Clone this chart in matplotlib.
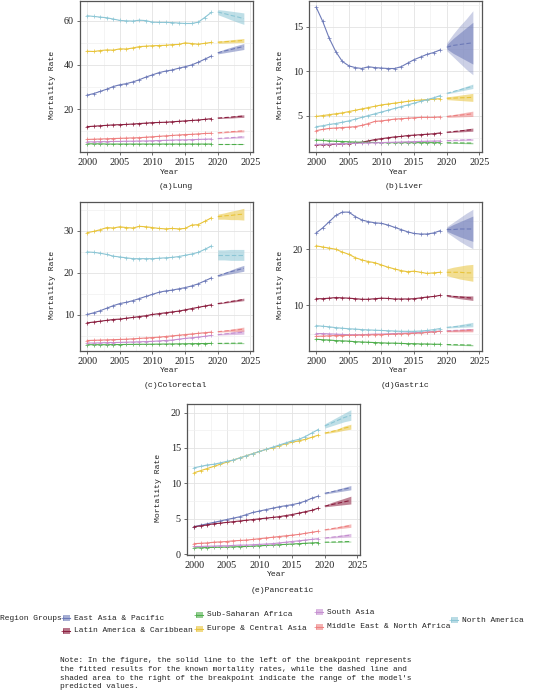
import matplotlib
matplotlib.use('Agg')
import matplotlib.pyplot as plt
from matplotlib.patches import Rectangle
from matplotlib.lines import Line2D
from matplotlib.ticker import MultipleLocator

plt.rcParams['font.family'] = ['Liberation Serif', 'DejaVu Serif']
TEXT_FONT = ['Liberation Mono', 'DejaVu Sans Mono']

years_obs = list(range(2000, 2020))
years_proj = list(range(2020, 2025))

regions = ['East Asia & Pacific', 'Latin America & Caribbean', 'Sub-Saharan Africa',
           'Europe & Central Asia', 'South Asia', 'Middle East & North Africa', 'North America']
region_colors = {
    'East Asia & Pacific': '#6d7ab8',
    'Latin America & Caribbean': '#8b1e3f',
    'Sub-Saharan Africa': '#4fae4c',
    'Europe & Central Asia': '#e8c43a',
    'South Asia': '#c58fd0',
    'Middle East & North Africa': '#ee8080',
    'North America': '#8cc6d5',
}
EA, LA, SSA, ECA, SA, MENA, NA = regions

# ---------------- Lung ----------------
lung_obs = {
    NA:   [62.3, 62.0, 61.7, 61.4, 60.8, 60.2, 60.0, 59.9, 60.3, 60.1, 59.4, 59.3, 59.3, 59.2, 59.0, 58.8, 58.8, 59.4, 61.5, 63.8],
    ECA:  [46.2, 46.1, 46.5, 46.8, 46.7, 47.3, 47.2, 47.7, 48.3, 48.5, 48.7, 48.8, 48.9, 49.2, 49.3, 50.0, 49.7, 49.4, 49.8, 50.2],
    EA:   [26.3, 27.0, 28.0, 29.0, 30.2, 31.0, 31.5, 32.3, 33.3, 34.5, 35.5, 36.5, 37.2, 37.7, 38.5, 39.2, 40.0, 41.2, 42.6, 44.0],
    LA:   [12.0, 12.2, 12.4, 12.6, 12.8, 12.9, 13.0, 13.2, 13.4, 13.6, 13.8, 13.9, 14.0, 14.2, 14.4, 14.6, 14.8, 15.0, 15.3, 15.6],
    MENA: [6.2, 6.3, 6.4, 6.5, 6.6, 6.7, 6.8, 6.9, 7.0, 7.2, 7.4, 7.6, 7.8, 8.0, 8.2, 8.4, 8.5, 8.7, 8.9, 9.0],
    SA:   [5.1, 5.1, 5.2, 5.2, 5.3, 5.3, 5.4, 5.4, 5.5, 5.5, 5.6, 5.7, 5.8, 5.9, 6.0, 6.0, 6.1, 6.2, 6.3, 6.4],
    SSA:  [4.2, 4.2, 4.2, 4.1, 4.1, 4.1, 4.1, 4.1, 4.1, 4.1, 4.1, 4.1, 4.1, 4.1, 4.1, 4.1, 4.1, 4.1, 4.1, 4.1],
}
lung_proj = {
    NA: [64.0, 63.3, 62.5, 61.8, 61.0], ECA: [50.3, 50.5, 50.7, 50.9, 51.1],
    EA: [45.5, 46.3, 47.0, 47.7, 48.4], LA: [15.9, 16.1, 16.3, 16.6, 16.8],
    MENA: [9.2, 9.4, 9.7, 9.9, 10.1], SA: [6.6, 6.8, 7.0, 7.2, 7.4], SSA: [4.1, 4.1, 4.1, 4.1, 4.1],
}
lung_lo = {
    NA: [62.8, 61.7, 60.5, 59.4, 58.4], ECA: [49.8, 49.9, 50.0, 50.1, 50.2],
    EA: [45.0, 45.5, 46.0, 46.5, 47.0], LA: [15.7, 15.8, 15.9, 16.1, 16.2],
    MENA: [9.1, 9.2, 9.4, 9.5, 9.6], SA: [6.5, 6.6, 6.7, 6.8, 6.9], SSA: [4.05, 4.0, 3.95, 3.9, 3.9],
}
lung_hi = {
    NA: [65.1, 64.8, 64.4, 64.0, 63.6], ECA: [50.8, 51.1, 51.4, 51.7, 52.0],
    EA: [46.0, 47.1, 48.0, 48.9, 49.7], LA: [16.1, 16.4, 16.7, 17.1, 17.4],
    MENA: [9.3, 9.6, 10.0, 10.3, 10.6], SA: [6.7, 7.0, 7.3, 7.6, 7.9], SSA: [4.15, 4.2, 4.25, 4.3, 4.3],
}

# ---------------- Liver ----------------
liver_obs = {
    EA:   [17.2, 15.6, 13.7, 12.2, 11.1, 10.6, 10.4, 10.3, 10.5, 10.4, 10.35, 10.3, 10.3, 10.5, 10.9, 11.3, 11.6, 11.9, 12.1, 12.4],
    ECA:  [4.9, 5.0, 5.1, 5.2, 5.3, 5.45, 5.6, 5.75, 5.9, 6.05, 6.2, 6.3, 6.4, 6.5, 6.6, 6.7, 6.75, 6.8, 6.85, 6.9],
    NA:   [3.75, 3.85, 4.0, 4.1, 4.25, 4.4, 4.6, 4.8, 5.0, 5.2, 5.4, 5.6, 5.8, 6.0, 6.2, 6.4, 6.6, 6.8, 7.0, 7.25],
    MENA: [3.3, 3.45, 3.55, 3.6, 3.65, 3.7, 3.75, 3.9, 4.1, 4.35, 4.4, 4.5, 4.6, 4.65, 4.7, 4.75, 4.8, 4.8, 4.8, 4.85],
    LA:   [1.7, 1.72, 1.74, 1.77, 1.8, 1.85, 1.9, 2.0, 2.15, 2.3, 2.4, 2.5, 2.6, 2.65, 2.75, 2.8, 2.85, 2.9, 2.95, 3.05],
    SSA:  [2.25, 2.2, 2.15, 2.1, 2.08, 2.05, 2.02, 2.0, 1.98, 1.97, 1.96, 1.95, 1.95, 1.95, 1.95, 1.95, 1.95, 1.95, 1.95, 1.95],
    SA:   [1.75, 1.78, 1.8, 1.82, 1.84, 1.86, 1.88, 1.9, 1.92, 1.94, 1.96, 1.98, 2.0, 2.02, 2.05, 2.07, 2.09, 2.11, 2.13, 2.15],
}
liver_proj = {
    EA: [12.7, 12.9, 13.0, 13.1, 13.2], ECA: [6.95, 6.97, 7.0, 7.02, 7.05],
    NA: [7.5, 7.7, 7.9, 8.1, 8.3], MENA: [4.9, 4.98, 5.05, 5.12, 5.2],
    LA: [3.12, 3.2, 3.27, 3.35, 3.42], SSA: [1.94, 1.93, 1.92, 1.91, 1.9], SA: [2.18, 2.21, 2.24, 2.27, 2.3],
}
liver_lo = {
    EA: [12.3, 11.6, 10.9, 10.2, 9.6], ECA: [6.8, 6.75, 6.7, 6.65, 6.6],
    NA: [7.45, 7.6, 7.75, 7.9, 8.05], MENA: [4.8, 4.82, 4.85, 4.88, 4.9],
    LA: [3.08, 3.12, 3.16, 3.2, 3.24], SSA: [1.9, 1.88, 1.86, 1.84, 1.82], SA: [2.15, 2.16, 2.17, 2.18, 2.19],
}
liver_hi = {
    EA: [13.2, 14.2, 15.1, 15.9, 16.8], ECA: [7.1, 7.2, 7.3, 7.4, 7.5],
    NA: [7.55, 7.8, 8.05, 8.3, 8.55], MENA: [5.0, 5.12, 5.25, 5.38, 5.5],
    LA: [3.16, 3.28, 3.38, 3.5, 3.6], SSA: [1.98, 1.98, 1.98, 1.98, 1.98], SA: [2.21, 2.26, 2.31, 2.36, 2.41],
}
liver_inner_lo = {EA: [12.5, 12.0, 11.6, 11.2, 10.8]}
liver_inner_hi = {EA: [13.0, 13.7, 14.3, 14.9, 15.5]}

# ---------------- Colorectal ----------------
colorectal_obs = {
    ECA:  [29.6, 29.9, 30.3, 30.8, 30.7, 31.0, 30.8, 30.7, 31.1, 31.0, 30.8, 30.6, 30.5, 30.6, 30.5, 30.6, 31.4, 31.5, 32.3, 33.1],
    NA:   [25.0, 24.9, 24.7, 24.4, 24.0, 23.8, 23.6, 23.4, 23.4, 23.4, 23.4, 23.5, 23.6, 23.7, 23.9, 24.2, 24.5, 24.9, 25.6, 26.4],
    EA:   [10.1, 10.5, 11.0, 11.6, 12.2, 12.7, 13.0, 13.4, 13.9, 14.4, 14.9, 15.4, 15.7, 15.9, 16.2, 16.5, 16.9, 17.4, 18.1, 18.8],
    LA:   [8.1, 8.3, 8.5, 8.7, 8.9, 9.0, 9.2, 9.4, 9.6, 9.8, 10.1, 10.3, 10.5, 10.7, 10.9, 11.2, 11.5, 11.8, 12.1, 12.4],
    MENA: [3.9, 3.95, 4.0, 4.05, 4.1, 4.15, 4.2, 4.3, 4.4, 4.5, 4.6, 4.7, 4.85, 5.0, 5.15, 5.3, 5.45, 5.6, 5.75, 5.9],
    SA:   [3.3, 3.3, 3.35, 3.4, 3.4, 3.45, 3.5, 3.55, 3.6, 3.65, 3.7, 3.8, 3.9, 4.0, 4.2, 4.4, 4.55, 4.7, 4.9, 5.1],
    SSA:  [2.9, 2.9, 2.9, 2.9, 2.92, 2.94, 2.96, 2.98, 3.0, 3.0, 3.02, 3.04, 3.06, 3.08, 3.1, 3.12, 3.14, 3.16, 3.18, 3.2],
}
colorectal_proj = {
    ECA: [33.4, 33.6, 33.7, 33.9, 34.0], NA: [24.3, 24.3, 24.3, 24.3, 24.3],
    EA: [19.3, 19.8, 20.3, 20.7, 21.1], LA: [12.7, 12.9, 13.2, 13.4, 13.7],
    MENA: [6.0, 6.15, 6.3, 6.45, 6.6], SA: [5.3, 5.45, 5.6, 5.75, 5.9], SSA: [3.2, 3.22, 3.24, 3.26, 3.28],
}
colorectal_lo = {
    ECA: [32.8, 32.8, 32.7, 32.7, 32.6], NA: [23.1, 23.1, 23.0, 23.0, 23.0],
    EA: [19.1, 19.5, 19.8, 20.1, 20.4], LA: [12.6, 12.8, 13.0, 13.2, 13.4],
    MENA: [5.9, 5.95, 6.0, 6.05, 6.1], SA: [5.2, 5.25, 5.3, 5.35, 5.4], SSA: [3.15, 3.15, 3.15, 3.15, 3.15],
}
colorectal_hi = {
    ECA: [34.0, 34.3, 34.7, 35.0, 35.4], NA: [25.5, 25.5, 25.6, 25.6, 25.6],
    EA: [19.5, 20.1, 20.7, 21.3, 21.8], LA: [12.8, 13.1, 13.4, 13.7, 14.0],
    MENA: [6.1, 6.35, 6.6, 6.85, 7.1], SA: [5.4, 5.65, 5.9, 6.15, 6.4], SSA: [3.25, 3.3, 3.33, 3.36, 3.4],
}

# ---------------- Gastric ----------------
gastric_obs = {
    EA:   [22.9, 23.8, 24.9, 26.0, 26.6, 26.6, 25.8, 25.2, 24.9, 24.7, 24.6, 24.3, 23.9, 23.5, 23.1, 22.8, 22.7, 22.7, 22.9, 23.3],
    ECA:  [20.6, 20.4, 20.2, 20.0, 19.5, 19.1, 18.5, 18.1, 17.8, 17.6, 17.2, 16.8, 16.5, 16.2, 16.0, 16.1, 15.9, 15.7, 15.8, 15.9],
    LA:   [11.2, 11.2, 11.3, 11.4, 11.35, 11.3, 11.2, 11.1, 11.1, 11.2, 11.3, 11.25, 11.15, 11.15, 11.15, 11.2, 11.35, 11.5, 11.6, 11.8],
    NA:   [6.4, 6.3, 6.2, 6.05, 5.95, 5.85, 5.8, 5.7, 5.65, 5.6, 5.55, 5.5, 5.45, 5.4, 5.4, 5.4, 5.45, 5.55, 5.7, 5.9],
    SA:   [5.0, 5.0, 4.95, 4.9, 4.85, 4.8, 4.8, 4.8, 4.85, 4.9, 4.9, 4.95, 5.0, 5.05, 5.1, 5.15, 5.2, 5.3, 5.35, 5.45],
    MENA: [4.5, 4.55, 4.6, 4.65, 4.65, 4.7, 4.7, 4.75, 4.75, 4.8, 4.8, 4.85, 4.9, 4.95, 5.0, 5.05, 5.1, 5.2, 5.3, 5.4],
    SSA:  [4.0, 3.9, 3.85, 3.75, 3.7, 3.65, 3.55, 3.5, 3.45, 3.4, 3.35, 3.3, 3.3, 3.25, 3.2, 3.2, 3.15, 3.15, 3.1, 3.1],
}
gastric_proj = {
    EA: [23.5, 23.5, 23.6, 23.6, 23.6], ECA: [15.9, 15.9, 15.9, 15.8, 15.8],
    LA: [11.75, 11.6, 11.5, 11.4, 11.3], NA: [6.1, 6.2, 6.3, 6.45, 6.6],
    SA: [5.5, 5.55, 5.6, 5.65, 5.7], MENA: [5.4, 5.45, 5.5, 5.55, 5.6], SSA: [3.05, 3.02, 3.0, 2.97, 2.95],
}
gastric_lo = {
    EA: [23.0, 22.2, 21.4, 20.7, 20.1], ECA: [15.3, 15.0, 14.7, 14.5, 14.3],
    LA: [11.6, 11.4, 11.2, 11.05, 10.9], NA: [6.0, 6.05, 6.1, 6.15, 6.2],
    SA: [5.4, 5.42, 5.44, 5.46, 5.48], MENA: [5.3, 5.3, 5.3, 5.3, 5.3], SSA: [3.0, 2.95, 2.9, 2.86, 2.82],
}
gastric_hi = {
    EA: [24.0, 24.8, 25.6, 26.4, 27.1], ECA: [16.5, 16.8, 17.0, 17.2, 17.3],
    LA: [11.9, 11.8, 11.75, 11.7, 11.7], NA: [6.2, 6.4, 6.6, 6.8, 7.0],
    SA: [5.6, 5.68, 5.76, 5.84, 5.92], MENA: [5.5, 5.6, 5.7, 5.8, 5.9], SSA: [3.1, 3.09, 3.08, 3.07, 3.06],
}
gastric_inner_lo = {EA: [23.2, 22.7, 22.2, 21.8, 21.4]}
gastric_inner_hi = {EA: [23.8, 24.4, 24.9, 25.4, 25.9]}

# ---------------- Pancreatic ----------------
pancreatic_obs = {
    NA:   [12.2, 12.4, 12.6, 12.7, 12.9, 13.1, 13.3, 13.6, 13.9, 14.2, 14.5, 14.8, 15.1, 15.4, 15.7, 16.0, 16.2, 16.6, 17.1, 17.6],
    ECA:  [11.5, 11.8, 12.1, 12.4, 12.7, 13.0, 13.3, 13.6, 13.9, 14.2, 14.5, 14.8, 15.0, 15.3, 15.6, 15.8, 16.0, 16.2, 16.5, 16.8],
    EA:   [3.9, 4.1, 4.3, 4.5, 4.7, 4.9, 5.1, 5.3, 5.6, 5.9, 6.1, 6.3, 6.5, 6.7, 6.85, 7.0, 7.2, 7.5, 7.9, 8.2],
    LA:   [3.9, 4.0, 4.15, 4.3, 4.4, 4.5, 4.6, 4.7, 4.8, 4.9, 5.0, 5.1, 5.2, 5.3, 5.45, 5.6, 5.8, 6.0, 6.2, 6.5],
    MENA: [1.5, 1.55, 1.6, 1.7, 1.75, 1.8, 1.9, 1.95, 2.0, 2.1, 2.2, 2.3, 2.4, 2.5, 2.6, 2.7, 2.8, 2.95, 3.1, 3.25],
    SA:   [1.1, 1.1, 1.15, 1.15, 1.2, 1.2, 1.25, 1.3, 1.3, 1.35, 1.4, 1.45, 1.5, 1.6, 1.7, 1.8, 1.9, 2.0, 2.1, 2.2],
    SSA:  [0.9, 0.92, 0.95, 0.98, 1.0, 1.02, 1.05, 1.08, 1.1, 1.15, 1.2, 1.25, 1.3, 1.35, 1.4, 1.45, 1.5, 1.55, 1.6, 1.65],
}
pancreatic_proj = {
    NA: [18.1, 18.5, 18.9, 19.3, 19.6], ECA: [17.1, 17.3, 17.5, 17.8, 18.0],
    EA: [8.6, 8.8, 9.0, 9.2, 9.4], LA: [6.8, 7.0, 7.2, 7.4, 7.6],
    MENA: [3.45, 3.6, 3.75, 3.9, 4.05], SA: [2.3, 2.4, 2.5, 2.6, 2.7], SSA: [1.7, 1.72, 1.75, 1.78, 1.8],
}
pancreatic_lo = {
    NA: [17.8, 18.1, 18.4, 18.7, 18.9], ECA: [17.0, 17.15, 17.3, 17.5, 17.65],
    EA: [8.5, 8.65, 8.8, 8.95, 9.1], LA: [6.7, 6.8, 6.9, 7.0, 7.1],
    MENA: [3.4, 3.5, 3.6, 3.7, 3.8], SA: [2.25, 2.3, 2.35, 2.4, 2.45], SSA: [1.67, 1.68, 1.7, 1.72, 1.74],
}
pancreatic_hi = {
    NA: [18.4, 18.9, 19.4, 19.9, 20.4], ECA: [17.2, 17.45, 17.7, 18.1, 18.35],
    EA: [8.7, 8.95, 9.2, 9.45, 9.7], LA: [6.9, 7.3, 7.6, 7.9, 8.2],
    MENA: [3.5, 3.7, 3.9, 4.1, 4.3], SA: [2.35, 2.5, 2.65, 2.8, 2.95], SSA: [1.73, 1.76, 1.8, 1.84, 1.86],
}

panel_titles = ['(a)Lung', '(b)Liver', '(c)Colorectal', '(d)Gastric', '(e)Pancreatic']
x_ticks = [2000, 2005, 2010, 2015, 2020, 2025]

note_text = ("Note: In the figure, the solid line to the left of the breakpoint represents\n"
             "the fitted results for the known mortality rates, while the dashed line and\n"
             "shaded area to the right of the breakpoint indicate the range of the model's\n"
             "predicted values.")

# ---------------------------------------------------------------
W, H = 541, 700
fig = plt.figure(figsize=(W / 100, H / 100), dpi=100)

def px_rect(l, t, r, b):
    return [l / W, 1 - b / H, (r - l) / W, (b - t) / H]

panels = [
    (lung_obs, lung_proj, lung_lo, lung_hi, {}, {}, (0.5, 69), 20, 10, (80, 1, 253, 152)),
    (liver_obs, liver_proj, liver_lo, liver_hi, liver_inner_lo, liver_inner_hi, (0.9, 17.9), 5, 2.5, (309, 1, 482, 152)),
    (colorectal_obs, colorectal_proj, colorectal_lo, colorectal_hi, {}, {}, (1.4, 36.9), 10, 5, (80, 202, 253, 351)),
    (gastric_obs, gastric_proj, gastric_lo, gastric_hi, gastric_inner_lo, gastric_inner_hi, (1.9, 28.4), 10, 5, (309, 202, 482, 351)),
    (pancreatic_obs, pancreatic_proj, pancreatic_lo, pancreatic_hi, {}, {}, (-0.1, 21.2), 5, 2.5, (187, 404, 360, 555)),
]

FS = 7.3      # tick numbers
TFS = 5.9     # text in labels/legend/note
TC = '#222222'
for i, (obs, proj, lo, hi, ilo, ihi, ylim, major, minor, rect) in enumerate(panels):
    l, t, r, b = rect
    ax = fig.add_axes(px_rect(l, t, r, b))
    ax.set_facecolor('white')
    for reg in regions:
        c = region_colors[reg]
        ax.fill_between(years_proj, lo[reg], hi[reg], color=c, alpha=0.35 if reg in ilo else 0.55,
                        linewidth=0, zorder=2)
        if reg in ilo:
            ax.fill_between(years_proj, ilo[reg], ihi[reg], color=c, alpha=0.55, linewidth=0, zorder=2.5)
        ax.plot(years_proj, proj[reg], color=c, lw=0.8, ls=(0, (4, 2)), zorder=3)
        ax.plot(years_obs, obs[reg], color=c, lw=0.8, marker='+', ms=2.6, mew=0.5, zorder=4)
    ax.set_xlim(1998.9, 2025.4)
    ax.set_ylim(*ylim)
    ax.set_xticks(x_ticks)
    ax.xaxis.set_minor_locator(MultipleLocator(2.5))
    ax.yaxis.set_major_locator(MultipleLocator(major))
    ax.yaxis.set_minor_locator(MultipleLocator(minor))
    ax.grid(True, which='major', color='#e3e3e3', lw=0.6, zorder=0)
    ax.grid(True, which='minor', color='#f0f0f0', lw=0.5, zorder=0)
    ax.set_axisbelow(True)
    ax.tick_params(axis='both', which='major', labelsize=FS, length=2.5, width=0.6,
                   color='#555555', labelcolor='#222222', pad=2)
    ax.tick_params(axis='both', which='minor', length=0)
    for s in ax.spines.values():
        s.set_color('#555555')
        s.set_linewidth(0.9)
    cx = (l + r) / 2
    fig.text((l - 28) / W, 1 - ((t + b) / 2 + 8) / H, 'Mortality Rate', rotation=90,
             ha='center', va='center', fontsize=TFS, color=TC, family=TEXT_FONT)
    fig.text((cx + 3) / W, 1 - (b + 20) / H, 'Year', ha='center', va='center', fontsize=TFS,
             color=TC, family=TEXT_FONT)
    fig.text((cx + 9) / W, 1 - (b + 35) / H, panel_titles[i], ha='center', va='center',
             fontsize=TFS, color=TC, family=TEXT_FONT)

# ---------------- Legend ----------------
fig.text(0 / W, 1 - 619 / H, 'Region Groups', ha='left', va='center', fontsize=TFS - 0.2,
         color=TC, family=TEXT_FONT)
legend_pos = {
    EA: (63, 618), LA: (63, 631),
    SSA: (196, 615), ECA: (196, 629),
    SA: (316, 612), MENA: (316, 627),
    NA: (451, 620),
}
for reg in regions:
    x, y = legend_pos[reg]
    c = region_colors[reg]
    fig.add_artist(Rectangle((x / W, 1 - (y + 3) / H), 7 / W, 6 / H, transform=fig.transFigure,
                             facecolor=c, alpha=0.6, edgecolor='none'))
    fig.add_artist(Line2D([x / W, (x + 7) / W], [1 - y / H, 1 - y / H], transform=fig.transFigure,
                          color=c, lw=0.8, marker='+', ms=2.5, mew=0.5, markevery=[0]))
    fig.text((x + 11) / W, 1 - y / H, reg, ha='left', va='center', fontsize=TFS - 0.2,
             color=TC, family=TEXT_FONT)

fig.text(60 / W, 1 - 657 / H, note_text, ha='left', va='top', fontsize=TFS - 0.3, color=TC,
         linespacing=1.35, family=TEXT_FONT)

fig.savefig('out.png', dpi=100, facecolor='white')
